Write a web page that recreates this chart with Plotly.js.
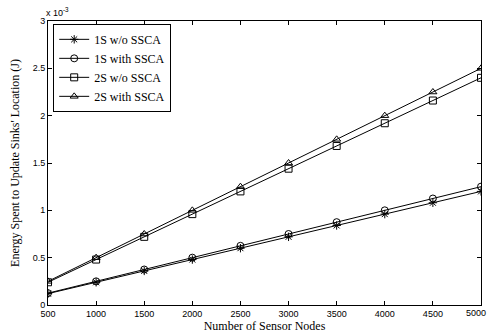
<!DOCTYPE html>
<html><head><meta charset="utf-8">
<script src="https://cdn.plot.ly/plotly-3.0.1.min.js"></script>
<style>html,body{margin:0;padding:0;background:#fff}#c{width:489px;height:335px}</style>
</head><body><div id="c"></div>
<script>
const nodes = [500,1000,1500,2000,2500,3000,3500,4000,4500,5000];
const s1NoSSCA = [0.12,0.24,0.36,0.48,0.60,0.72,0.84,0.96,1.08,1.20];
const s1SSCA = [0.125,0.25,0.375,0.50,0.625,0.75,0.875,1.00,1.125,1.25];
const s2NoSSCA = [0.24,0.48,0.72,0.96,1.20,1.44,1.68,1.92,2.16,2.40];
const s2SSCA = [0.25,0.50,0.75,1.00,1.25,1.50,1.75,2.00,2.25,2.50];
const names = ['1S w/o SSCA','1S with SSCA','2S w/o SSCA','2S with SSCA'];
const symbols = ['asterisk-open','circle-open','square-open','triangle-up-open'];
const series = [s1NoSSCA, s1SSCA, s2NoSSCA, s2SSCA];
const traces = series.map((ys,i)=>({
  x: nodes, y: ys, name: names[i], type:'scatter', mode:'lines+markers',
  line:{color:'#000', width:1},
  marker:{symbol:symbols[i], size:7, color:'#000', line:{color:'#000', width:1}}
}));
const tickFont = {family:'Liberation Sans, Arial, sans-serif', size:9, color:'#000'};
const serif = 'Liberation Serif, Times New Roman, serif';
const layout = {
  width:489, height:335,
  margin:{l:48, r:8, t:21, b:30},
  paper_bgcolor:'#fff', plot_bgcolor:'#fff',
  showlegend:true,
  legend:{x:0.012, y:0.99, xanchor:'left', yanchor:'top', bgcolor:'#fff',
    bordercolor:'#000', borderwidth:1,
    font:{family:serif, size:12, color:'#000'},
    tracegroupgap:0},
  xaxis:{range:[500,5000], tickvals:nodes, ticks:'inside', ticklen:4, tickcolor:'#000',
    showline:true, linecolor:'#000', linewidth:1, mirror:'ticks', showgrid:false, zeroline:false,
    tickfont:tickFont,
    title:{text:'Number of Sensor Nodes', standoff:1,
      font:{family:serif, size:12, color:'#000'}}},
  yaxis:{range:[0,3], tickvals:[0,0.5,1,1.5,2,2.5,3], ticktext:['0','0.5','1','1.5','2','2.5','3'],
    ticks:'inside', ticklen:4, tickcolor:'#000',
    showline:true, linecolor:'#000', linewidth:1, mirror:'ticks', showgrid:false, zeroline:false,
    tickfont:tickFont,
    title:{text:"Energy Spent to Update Sinks' Location (J)", standoff:10,
      font:{family:serif, size:12, color:'#000'}}},
  annotations:[
    {xref:'paper', yref:'paper', x:0, y:1, xanchor:'left', yanchor:'bottom',
      xshift:-4, yshift:1, showarrow:false, text:'x 10<sup>-3</sup>',
      font:{family:'Liberation Sans, Arial, sans-serif', size:9, color:'#000'}},
    {xref:'x', yref:'paper', x:nodes[nodes.length-1], y:0, xanchor:'right', yanchor:'top',
      xshift:7, yshift:-1, showarrow:false, text:String(nodes[nodes.length-1]), font:tickFont}
  ]
};
Plotly.newPlot('c', traces, layout, {displayModeBar:false, staticPlot:true});
</script></body></html>
